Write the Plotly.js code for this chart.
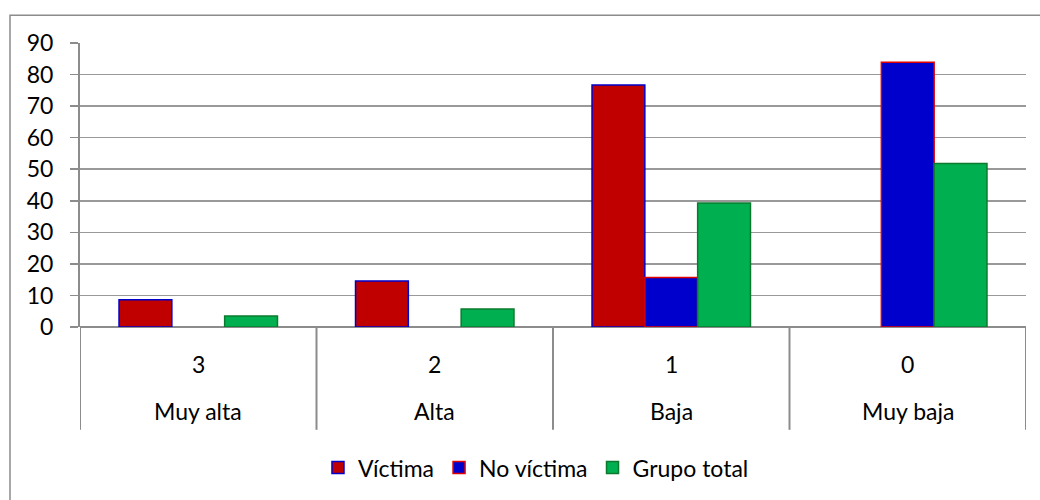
<!DOCTYPE html>
<html>
<head>
<meta charset="utf-8">
<script src="https://cdn.plot.ly/plotly-3.0.1.min.js"></script>
<style>html,body{margin:0;padding:0;background:#fff;}</style>
</head>
<body>
<div id="chart" style="width:1040px;height:500px;"></div>
<script>
const levelCodes = ["3", "2", "1", "0"];
const levelNames = ["Muy alta", "Alta", "Baja", "Muy baja"];
const seriesNames = ["Víctima", "No víctima", "Grupo total"];
const victima = [8.6, 14.6, 76.7, null];
const noVictima = [null, null, 15.7, 83.9];
const grupoTotal = [3.5, 5.7, 39.3, 51.8];

const xs = [0, 1, 2, 3];
const fontFam = "Lato, 'Open Sans', sans-serif";
const fs = 23;

const traces = [
  {type: "bar", name: seriesNames[0], x: xs, y: victima,
   marker: {color: "#C00000", line: {color: "#0000CC", width: 1.5}}},
  {type: "bar", name: seriesNames[1], x: xs, y: noVictima,
   marker: {color: "#0000CC", line: {color: "#E00000", width: 1.5}}},
  {type: "bar", name: seriesNames[2], x: xs, y: grupoTotal,
   marker: {color: "#00B050", line: {color: "#0B7A2E", width: 1.5}}}
];

const shapes = [];
// outer chart border
shapes.push({type: "rect", xref: "paper", yref: "paper",
  x0: -0.074, x1: 1.03, y0: -0.65, y1: 1.098,
  line: {color: "#8C8C8C", width: 1.5}, fillcolor: "rgba(0,0,0,0)", layer: "below"});
// category dividers
for (let i = 0; i <= levelCodes.length; i++) {
  shapes.push({type: "line", xref: "x", yref: "paper",
    x0: i - 0.5, x1: i - 0.5, y0: 0, y1: -0.362,
    line: {color: "#8C8C8C", width: 2}});
}

const annotations = [];
levelCodes.forEach((c, i) => {
  annotations.push({xref: "x", yref: "paper", x: i, y: -0.13, text: c,
    showarrow: false, font: {family: fontFam, size: fs, color: "#000"}, yanchor: "middle"});
  annotations.push({xref: "x", yref: "paper", x: i, y: -0.295, text: levelNames[i],
    showarrow: false, font: {family: fontFam, size: fs, color: "#000"}, yanchor: "middle"});
});

const layout = {
  width: 1040, height: 500,
  margin: {l: 80, r: 14, t: 43, b: 172},
  paper_bgcolor: "#fff", plot_bgcolor: "#fff",
  barmode: "group", bargap: 0.33, bargroupgap: 0,
  font: {family: fontFam, size: fs, color: "#000"},
  xaxis: {range: [-0.5, 3.5], showticklabels: false, showgrid: false, zeroline: false,
    showline: false, ticks: "", fixedrange: true},
  yaxis: {range: [0, 90], dtick: 10, showgrid: true, gridcolor: "#999999", gridwidth: 1.5,
    showline: true, linecolor: "#8C8C8C", linewidth: 2, ticks: "outside", ticklen: 8,
    tickcolor: "#8C8C8C", tickwidth: 1.5, zeroline: true, zerolinecolor: "#8C8C8C", zerolinewidth: 2,
    tickfont: {family: fontFam, size: fs, color: "#000"}, ticklabelstandoff: 12},
  showlegend: true,
  legend: {orientation: "h", x: 0.482, xanchor: "center", y: -0.49, yanchor: "middle",
    font: {family: fontFam, size: fs, color: "#000"}, itemwidth: 30, traceorder: "normal"},
  shapes: shapes,
  annotations: annotations
};

Plotly.newPlot("chart", traces, layout, {displayModeBar: false, staticPlot: true});
</script>
</body>
</html>
